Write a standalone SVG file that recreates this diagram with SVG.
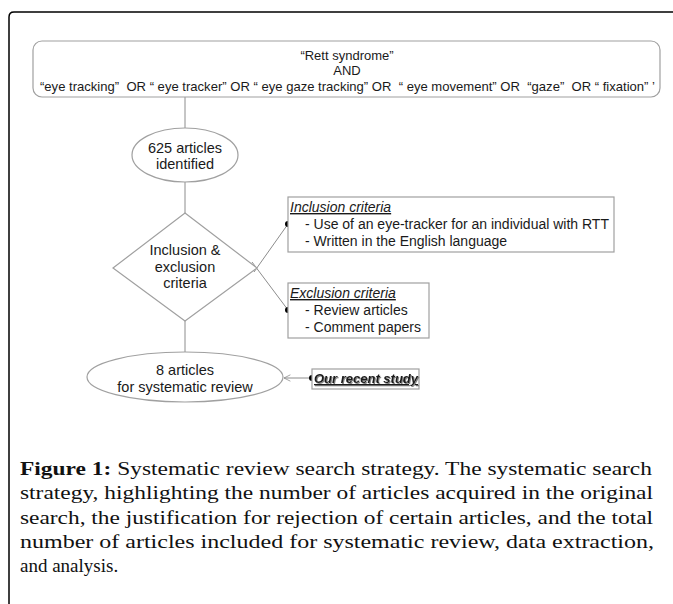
<svg xmlns="http://www.w3.org/2000/svg" width="673" height="604" viewBox="0 0 673 604">
<defs>
<style>
.t{font-family:"Liberation Sans",Arial,sans-serif;fill:#1a1a1a;}
.box{fill:#fff;stroke:#a0a0a0;stroke-width:1.2;}
.ln{stroke:#8c8c8c;stroke-width:1;fill:none;}
.cap{font-family:"Liberation Serif","Times New Roman",serif;font-size:19px;fill:#111;}
</style>
<marker id="open" viewBox="0 0 10 10" refX="9" refY="5" markerWidth="8" markerHeight="8" orient="auto" markerUnits="userSpaceOnUse">
<path d="M1,1 L9,5 L1,9" fill="none" stroke="#8c8c8c" stroke-width="1"/>
</marker>
<filter id="sh" x="-5%" y="-20%" width="110%" height="150%">
<feDropShadow dx="1" dy="1" stdDeviation="0.4" flood-color="#777" flood-opacity="0.9"/>
</filter>
</defs>
<rect width="673" height="604" fill="#fff"/>
<path d="M9,604 L9,17 Q9,12 14,12 L673,12" fill="none" stroke="#000" stroke-width="1.5"/>

<g id="connectors">
<line class="ln" x1="185" y1="97" x2="185" y2="128"/>
<line class="ln" x1="185" y1="182" x2="185" y2="213"/>
<line class="ln" x1="185" y1="321" x2="185" y2="352"/>
<line class="ln" x1="254" y1="272" x2="288" y2="224"/>
<line class="ln" x1="252" y1="262" x2="288" y2="310"/>
<line class="ln" x1="312" y1="378" x2="284" y2="378" marker-end="url(#open)"/>
<circle cx="288" cy="224" r="3" fill="#000"/>
<circle cx="288" cy="310" r="3" fill="#000"/>
<circle cx="312" cy="378" r="3" fill="#000"/>
</g>

<g id="search">
<rect class="box" x="33" y="41" width="627" height="56" rx="9"/>
<text class="t" font-size="13" x="347" y="60" text-anchor="middle">“Rett syndrome”</text>
<text class="t" font-size="13" x="347" y="75" text-anchor="middle">AND</text>
<text class="t" font-size="13" x="40" y="91" textLength="615" lengthAdjust="spacingAndGlyphs" xml:space="preserve">“eye tracking”  OR “ eye tracker” OR “ eye gaze tracking” OR  “ eye movement” OR  “gaze”  OR “ fixation” ’</text>
</g>

<g id="identified">
<ellipse class="box" cx="185" cy="155" rx="53" ry="27"/>
<text class="t" font-size="14.5" x="185" y="153" text-anchor="middle">625 articles</text>
<text class="t" font-size="14.5" x="185" y="169" text-anchor="middle">identified</text>
</g>

<g id="criteria">
<polygon class="box" points="185,213 257,268 185,321 113,268"/>
<text class="t" font-size="14.5" x="185" y="255" text-anchor="middle">Inclusion &amp;</text>
<text class="t" font-size="14.5" x="185" y="272" text-anchor="middle">exclusion</text>
<text class="t" font-size="14.5" x="185" y="288" text-anchor="middle">criteria</text>
</g>

<g id="inclusion">
<rect class="box" x="288" y="197" width="326" height="55"/>
<text class="t" font-size="14" font-style="italic" text-decoration="underline" x="290" y="212">Inclusion criteria</text>
<text class="t" font-size="14" x="305" y="229">- Use of an eye-tracker for an individual with RTT</text>
<text class="t" font-size="14" x="305" y="246">- Written in the English language</text>
</g>

<g id="exclusion">
<rect class="box" x="288" y="283" width="141" height="55"/>
<text class="t" font-size="14" font-style="italic" text-decoration="underline" x="290" y="298">Exclusion criteria</text>
<text class="t" font-size="14" x="305" y="315">- Review articles</text>
<text class="t" font-size="14" x="305" y="332">- Comment papers</text>
</g>

<g id="final">
<ellipse class="box" cx="185" cy="377" rx="98" ry="25"/>
<text class="t" font-size="14.5" x="185" y="375" text-anchor="middle">8 articles</text>
<text class="t" font-size="14.5" x="185" y="392" text-anchor="middle">for systematic review</text>
</g>

<g id="recent">
<rect class="box" x="312" y="369" width="107" height="20"/>
<text class="t" font-size="13" font-weight="bold" font-style="italic" text-decoration="underline" x="314" y="383" filter="url(#sh)">Our recent study</text>
</g>

<g id="caption">
<text class="cap" x="20" y="475" textLength="632" lengthAdjust="spacingAndGlyphs"><tspan font-weight="bold">Figure 1:</tspan> Systematic review search strategy. The systematic search</text>
<text class="cap" x="20" y="499" textLength="633" lengthAdjust="spacingAndGlyphs">strategy, highlighting the number of articles acquired in the original</text>
<text class="cap" x="20" y="524" textLength="633" lengthAdjust="spacingAndGlyphs">search, the justification for rejection of certain articles, and the total</text>
<text class="cap" x="20" y="548" textLength="634" lengthAdjust="spacingAndGlyphs">number of articles included for systematic review, data extraction,</text>
<text class="cap" x="20" y="572">and analysis.</text>
</g>
</svg>
